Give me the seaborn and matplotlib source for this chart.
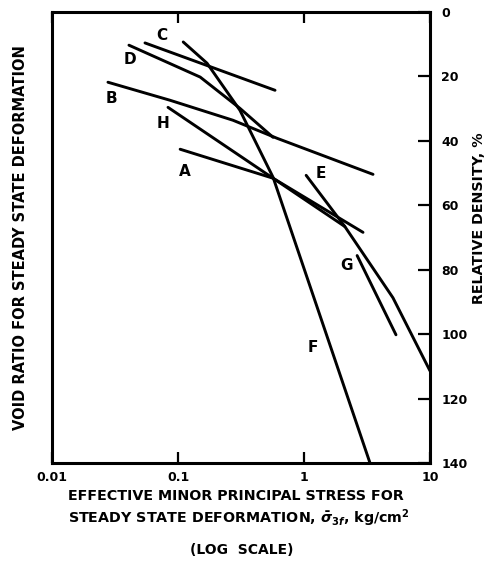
import numpy as np
import pandas as pd
import matplotlib
matplotlib.use("Agg")
import matplotlib.pyplot as plt
import seaborn as sns

# ---- data (stress in kg/cm2, relative density in %) ----
stress_A = [0.104, 0.568, 2.11]
rd_A = [42.6, 51.6, 66.6]
stress_B = [0.0278, 0.0865, 0.273, 0.611, 3.53]
rd_B = [21.8, 27.4, 33.6, 39.2, 50.4]
stress_C = [0.0547, 0.589]
rd_C = [9.6, 24.3]
stress_D = [0.0408, 0.150, 0.310, 0.568]
rd_D = [10.3, 20.2, 29.9, 38.9]
stress_E = [1.04, 2.11, 5.08, 10.0]
rd_E = [50.7, 66.6, 88.7, 111.4]
stress_F = [0.110, 0.170, 0.310, 0.568, 1.50, 3.34]
rd_F = [9.3, 15.9, 30.5, 51.3, 99.9, 140.0]
stress_G = [2.64, 5.37]
rd_G = [75.6, 100.2]
stress_H = [0.0833, 0.568, 2.94]
rd_H = [29.6, 51.6, 68.4]

curve_names = ["A", "B", "C", "D", "E", "F", "G", "H"]
label_stress = [0.114, 0.0299, 0.0747, 0.0416, 1.36, 1.18, 2.19, 0.076]
label_rd = [49.4, 26.7, 7.2, 14.9, 50.1, 104.2, 78.7, 34.5]

rd_ticks = [0, 20, 40, 60, 80, 100, 120, 140]
stress_ticks = [0.01, 0.1, 1, 10]
stress_tick_labels = ["0.01", "0.1", "1", "10"]

series = {
    "A": (stress_A, rd_A), "B": (stress_B, rd_B), "C": (stress_C, rd_C),
    "D": (stress_D, rd_D), "E": (stress_E, rd_E), "F": (stress_F, rd_F),
    "G": (stress_G, rd_G), "H": (stress_H, rd_H),
}
rows = []
for name, (xs, ys) in series.items():
    for i, (x, y) in enumerate(zip(xs, ys)):
        rows.append({"curve": name, "order": i, "stress": x, "rd": y})
df = pd.DataFrame(rows)

sns.set_style("white")
plt.rcParams["font.family"] = ["DejaVu Sans"]
plt.rcParams["font.weight"] = "bold"
plt.rcParams["text.color"] = "black"
plt.rcParams["xtick.color"] = "black"
plt.rcParams["ytick.color"] = "black"

fig = plt.figure(figsize=(4.87, 5.65), dpi=100)
ax = fig.add_axes([52 / 487, 1 - 463 / 565, (430 - 52) / 487, (463 - 12) / 565])
ax.set_xscale("log")

sns.lineplot(data=df, x="stress", y="rd", units="curve", estimator=None,
             sort=False, color="black", linewidth=2.1, ax=ax, legend=False)

ax.set_xlim(0.01, 10)
ax.set_ylim(140, 0)

for name, lx, ly in zip(curve_names, label_stress, label_rd):
    ax.text(lx, ly, name, ha="center", va="center", fontsize=11,
            fontweight="bold", color="black")

for s in ax.spines.values():
    s.set_linewidth(2.2)
    s.set_color("black")

ax.yaxis.tick_right()
ax.set_yticks(rd_ticks)
ax.set_yticklabels([str(t) for t in rd_ticks], fontsize=9, fontweight="bold")
ax.tick_params(axis="y", direction="in", length=9, width=1.6, right=True,
               left=False, labelright=True, labelleft=False, pad=8)

ax.set_xticks(stress_ticks)
ax.set_xticklabels(stress_tick_labels, fontsize=9, fontweight="bold")
ax.xaxis.set_minor_locator(matplotlib.ticker.NullLocator())
ax.tick_params(axis="x", direction="in", length=8, width=1.6, top=True,
               bottom=True, pad=6)
ax.set_xlabel("")
ax.set_ylabel("")

fig.text(236 / 487, 1 - 496 / 565, "EFFECTIVE MINOR PRINCIPAL STRESS FOR",
         ha="center", va="center", fontsize=10.3, fontweight="bold")
fig.text(239 / 487, 1 - 518 / 565,
         r"STEADY STATE DEFORMATION, $\bar{\sigma}_{3f}$, kg/cm$^2$",
         ha="center", va="center", fontsize=10.3, fontweight="bold")
fig.text(242 / 487, 1 - 550 / 565, "(LOG  SCALE)", ha="center", va="center",
         fontsize=10, fontweight="bold")
fig.text(21 / 487, 1 - 238 / 565, "VOID RATIO FOR STEADY STATE DEFORMATION",
         ha="center", va="center", rotation=90, fontsize=10.5, fontweight="bold")
fig.text(479 / 487, 1 - 218 / 565, "RELATIVE DENSITY, %", ha="center",
         va="center", rotation=90, fontsize=10.3, fontweight="bold")

fig.savefig("out.png", dpi=100, facecolor="white")
